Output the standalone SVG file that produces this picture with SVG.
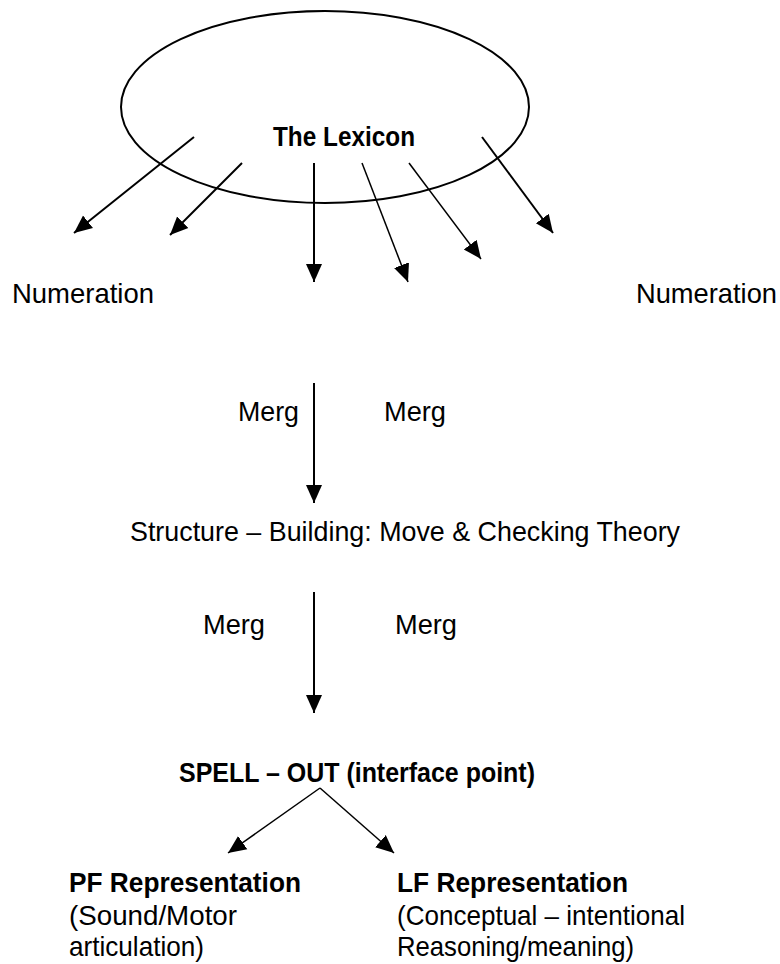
<svg xmlns="http://www.w3.org/2000/svg" width="780" height="964" viewBox="0 0 780 964">
<style>
text{font-family:"Liberation Sans",Arial,sans-serif;fill:#000}
.r{font-size:28px}
.b{font-size:28px;font-weight:bold}
.m{font-size:27px}
.c{stroke:#000;stroke-width:2;fill:none}
.t{stroke:#000;stroke-width:1.5;fill:none}
</style>
<defs>
<marker id="ah" markerUnits="userSpaceOnUse" markerWidth="20" markerHeight="18" refX="18" refY="8.5" orient="auto">
<path d="M0,0.5 L18,8.5 L0,16.5 z" fill="#000"/>
</marker>
</defs>
<rect width="780" height="964" fill="#fff"/>
<g id="lexicon">
<ellipse cx="325" cy="107" rx="204" ry="96" class="c"/>
<text class="b" x="273" y="146" textLength="142" lengthAdjust="spacingAndGlyphs">The Lexicon</text>
</g>
<g id="numeration-left"><text class="r" x="12" y="303" textLength="142" lengthAdjust="spacingAndGlyphs">Numeration</text></g>
<g id="numeration-right"><text class="r" x="636" y="303" textLength="141" lengthAdjust="spacingAndGlyphs">Numeration</text></g>
<g id="structure"><text class="r" x="130" y="541" textLength="550" lengthAdjust="spacingAndGlyphs">Structure – Building: Move &amp; Checking Theory</text></g>
<g id="spellout"><text class="b" x="179" y="782" textLength="356" lengthAdjust="spacingAndGlyphs">SPELL – OUT (interface point)</text></g>
<g id="pf">
<text class="b" x="69" y="892" textLength="232" lengthAdjust="spacingAndGlyphs">PF Representation</text>
<text class="r" x="69" y="925" textLength="168" lengthAdjust="spacingAndGlyphs">(Sound/Motor</text>
<text class="r" x="69" y="956" textLength="135" lengthAdjust="spacingAndGlyphs">articulation)</text>
</g>
<g id="lf">
<text class="b" x="397" y="892" textLength="231" lengthAdjust="spacingAndGlyphs">LF Representation</text>
<text class="r" x="397" y="925" textLength="288" lengthAdjust="spacingAndGlyphs">(Conceptual – intentional</text>
<text class="r" x="397" y="956" textLength="237" lengthAdjust="spacingAndGlyphs">Reasoning/meaning)</text>
</g>
<g id="connectors">
<line x1="194" y1="137" x2="74" y2="233" class="c" marker-end="url(#ah)"/>
<line x1="242" y1="163" x2="170" y2="235" class="c" marker-end="url(#ah)"/>
<line x1="314" y1="163" x2="314" y2="282" class="c" marker-end="url(#ah)"/>
<line x1="362" y1="163" x2="408" y2="282" class="t" marker-end="url(#ah)"/>
<line x1="409" y1="163" x2="481" y2="259" class="t" marker-end="url(#ah)"/>
<line x1="482" y1="137" x2="553" y2="233" class="c" marker-end="url(#ah)"/>
<line x1="314" y1="383" x2="314" y2="503" class="c" marker-end="url(#ah)"/>
<line x1="314" y1="592" x2="314" y2="713" class="c" marker-end="url(#ah)"/>
<line x1="320" y1="788" x2="228" y2="853" class="t" marker-end="url(#ah)"/>
<line x1="320" y1="788" x2="394" y2="853" class="t" marker-end="url(#ah)"/>
</g>
<g id="labels">
<text class="m" x="238" y="421" textLength="61" lengthAdjust="spacingAndGlyphs">Merg</text>
<text class="m" x="384" y="421" textLength="62" lengthAdjust="spacingAndGlyphs">Merg</text>
<text class="m" x="203" y="634" textLength="62" lengthAdjust="spacingAndGlyphs">Merg</text>
<text class="m" x="395" y="634" textLength="62" lengthAdjust="spacingAndGlyphs">Merg</text>
</g>
</svg>
